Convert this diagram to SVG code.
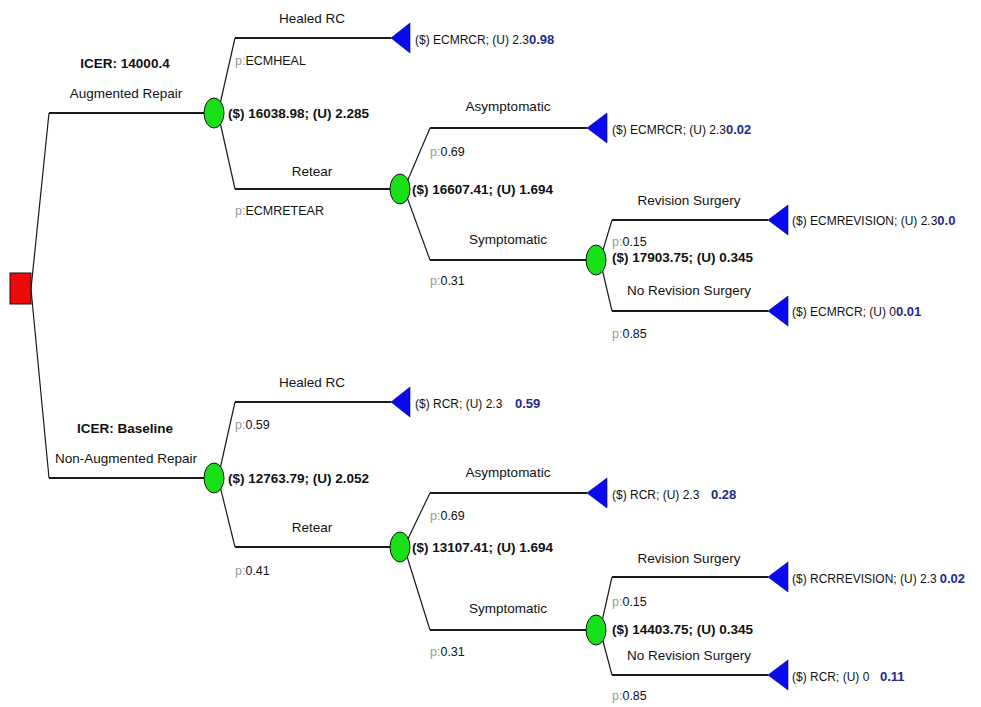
<svg xmlns="http://www.w3.org/2000/svg" width="981" height="707" viewBox="0 0 981 707">
<style>
text{font-family:"Liberation Sans",Arial,sans-serif;fill:#111}
.lbl{font-size:13.5px;text-anchor:middle}
.val{font-size:13.5px;font-weight:bold}
.icer{font-size:13.5px;font-weight:bold;text-anchor:middle}
.p{font-size:12.5px}
.pp{fill:#999}
.leaf{font-size:12px}
.b{fill:#1c2a8c;font-weight:bold;font-size:13px}
.ln{fill:none;stroke:#1a1a1a;stroke-width:1.2}
.hz{fill:none;stroke:#1a1a1a;stroke-width:1.9}
.chance{fill:#18e018;stroke:#111;stroke-width:1}
.term{fill:#0a0af0;stroke:#00008a;stroke-width:0.6}
.dec{fill:#ee0a0a;stroke:#111;stroke-width:1}
</style>
<g id="connectors">
<path class="ln" d="M31,289 L49,113"/><path class="hz" d="M49,113 H204"/>
<path class="ln" d="M31,289 L49,478"/><path class="hz" d="M49,478 H204"/>
<path class="ln" d="M218,113 L235,38"/><path class="hz" d="M235,38 H391"/>
<path class="ln" d="M218,113 L235,189"/><path class="hz" d="M235,189 H390"/>
<path class="ln" d="M404,189 L430,128"/><path class="hz" d="M430,128 H587"/>
<path class="ln" d="M404,189 L430,260"/><path class="hz" d="M430,260 H586"/>
<path class="ln" d="M600,260 L612,220"/><path class="hz" d="M612,220 H768"/>
<path class="ln" d="M600,260 L612,311"/><path class="hz" d="M612,311 H768"/>
<path class="ln" d="M218,478 L235,402"/><path class="hz" d="M235,402 H391"/>
<path class="ln" d="M218,478 L235,547"/><path class="hz" d="M235,547 H390"/>
<path class="ln" d="M404,547 L430,493"/><path class="hz" d="M430,493 H587"/>
<path class="ln" d="M404,547 L430,630"/><path class="hz" d="M430,630 H586"/>
<path class="ln" d="M600,630 L612,577"/><path class="hz" d="M612,577 H768"/>
<path class="ln" d="M600,630 L612,675"/><path class="hz" d="M612,675 H768"/>
<text class="icer" x="125" y="68">ICER: 14000.4</text>
<text class="lbl" x="126" y="98">Augmented Repair</text>
<text class="icer" x="125" y="433">ICER: Baseline</text>
<text class="lbl" x="126" y="463">Non-Augmented Repair</text>
<text class="lbl" x="312" y="23">Healed RC</text>
<text class="p" x="235" y="65"><tspan class="pp">p:</tspan>ECMHEAL</text>
<text class="lbl" x="312" y="176">Retear</text>
<text class="p" x="235" y="215"><tspan class="pp">p:</tspan>ECMRETEAR</text>
<text class="lbl" x="508" y="111">Asymptomatic</text>
<text class="p" x="430" y="156"><tspan class="pp">p:</tspan>0.69</text>
<text class="lbl" x="508" y="244">Symptomatic</text>
<text class="p" x="430" y="285"><tspan class="pp">p:</tspan>0.31</text>
<text class="lbl" x="689" y="205">Revision Surgery</text>
<text class="p" x="612" y="246"><tspan class="pp">p:</tspan>0.15</text>
<text class="lbl" x="689" y="295">No Revision Surgery</text>
<text class="p" x="612" y="338"><tspan class="pp">p:</tspan>0.85</text>
<text class="lbl" x="312" y="387">Healed RC</text>
<text class="p" x="235" y="429"><tspan class="pp">p:</tspan>0.59</text>
<text class="lbl" x="312" y="532">Retear</text>
<text class="p" x="235" y="575"><tspan class="pp">p:</tspan>0.41</text>
<text class="lbl" x="508" y="477">Asymptomatic</text>
<text class="p" x="430" y="520"><tspan class="pp">p:</tspan>0.69</text>
<text class="lbl" x="508" y="613">Symptomatic</text>
<text class="p" x="430" y="656"><tspan class="pp">p:</tspan>0.31</text>
<text class="lbl" x="689" y="563">Revision Surgery</text>
<text class="p" x="612" y="606"><tspan class="pp">p:</tspan>0.15</text>
<text class="lbl" x="689" y="660">No Revision Surgery</text>
<text class="p" x="612" y="700"><tspan class="pp">p:</tspan>0.85</text>
</g>
<g id="root"><rect class="dec" x="10" y="273" width="21" height="31"/></g>
<g id="augmented"><ellipse class="chance" cx="214" cy="113" rx="10" ry="15"/><text class="val" x="228" y="118">($) 16038.98; (U) 2.285</text></g>
<g id="aug-healed"><polygon class="term" points="391,38 410,23 410,53"/><text class="leaf" x="415" y="44">($) ECMRCR; (U) 2.3<tspan class="b">0.98</tspan></text></g>
<g id="aug-retear"><ellipse class="chance" cx="400" cy="189" rx="10" ry="15"/><text class="val" x="412" y="194">($) 16607.41; (U) 1.694</text></g>
<g id="aug-asym"><polygon class="term" points="587,128 607,113 607,143"/><text class="leaf" x="612" y="134">($) ECMRCR; (U) 2.3<tspan class="b">0.02</tspan></text></g>
<g id="aug-sym"><ellipse class="chance" cx="596" cy="260" rx="10" ry="15"/><text class="val" x="612" y="262">($) 17903.75; (U) 0.345</text></g>
<g id="aug-rev"><polygon class="term" points="768,220 788,205 788,235"/><text class="leaf" x="792" y="225">($) ECMREVISION; (U) 2.3<tspan class="b">0.0</tspan></text></g>
<g id="aug-norev"><polygon class="term" points="768,311 788,296 788,326"/><text class="leaf" x="792" y="316">($) ECMRCR; (U) 0<tspan class="b">0.01</tspan></text></g>
<g id="baseline"><ellipse class="chance" cx="214" cy="478" rx="10" ry="15"/><text class="val" x="228" y="483">($) 12763.79; (U) 2.052</text></g>
<g id="base-healed"><polygon class="term" points="391,402 410,387 410,417"/><text class="leaf" x="415" y="408">($) RCR; (U) 2.3</text><text class="b" x="515" y="408">0.59</text></g>
<g id="base-retear"><ellipse class="chance" cx="400" cy="547" rx="10" ry="15"/><text class="val" x="412" y="552">($) 13107.41; (U) 1.694</text></g>
<g id="base-asym"><polygon class="term" points="587,493 607,478 607,508"/><text class="leaf" x="612" y="499">($) RCR; (U) 2.3</text><text class="b" x="711" y="499">0.28</text></g>
<g id="base-sym"><ellipse class="chance" cx="596" cy="630" rx="10" ry="15"/><text class="val" x="612" y="634">($) 14403.75; (U) 0.345</text></g>
<g id="base-rev"><polygon class="term" points="768,577 788,562 788,592"/><text class="leaf" x="792" y="583">($) RCRREVISION; (U) 2.3<tspan class="b" dx="3">0.02</tspan></text></g>
<g id="base-norev"><polygon class="term" points="768,675 788,660 788,690"/><text class="leaf" x="792" y="681">($) RCR; (U) 0</text><text class="b" x="880" y="681">0.11</text></g>
</svg>
